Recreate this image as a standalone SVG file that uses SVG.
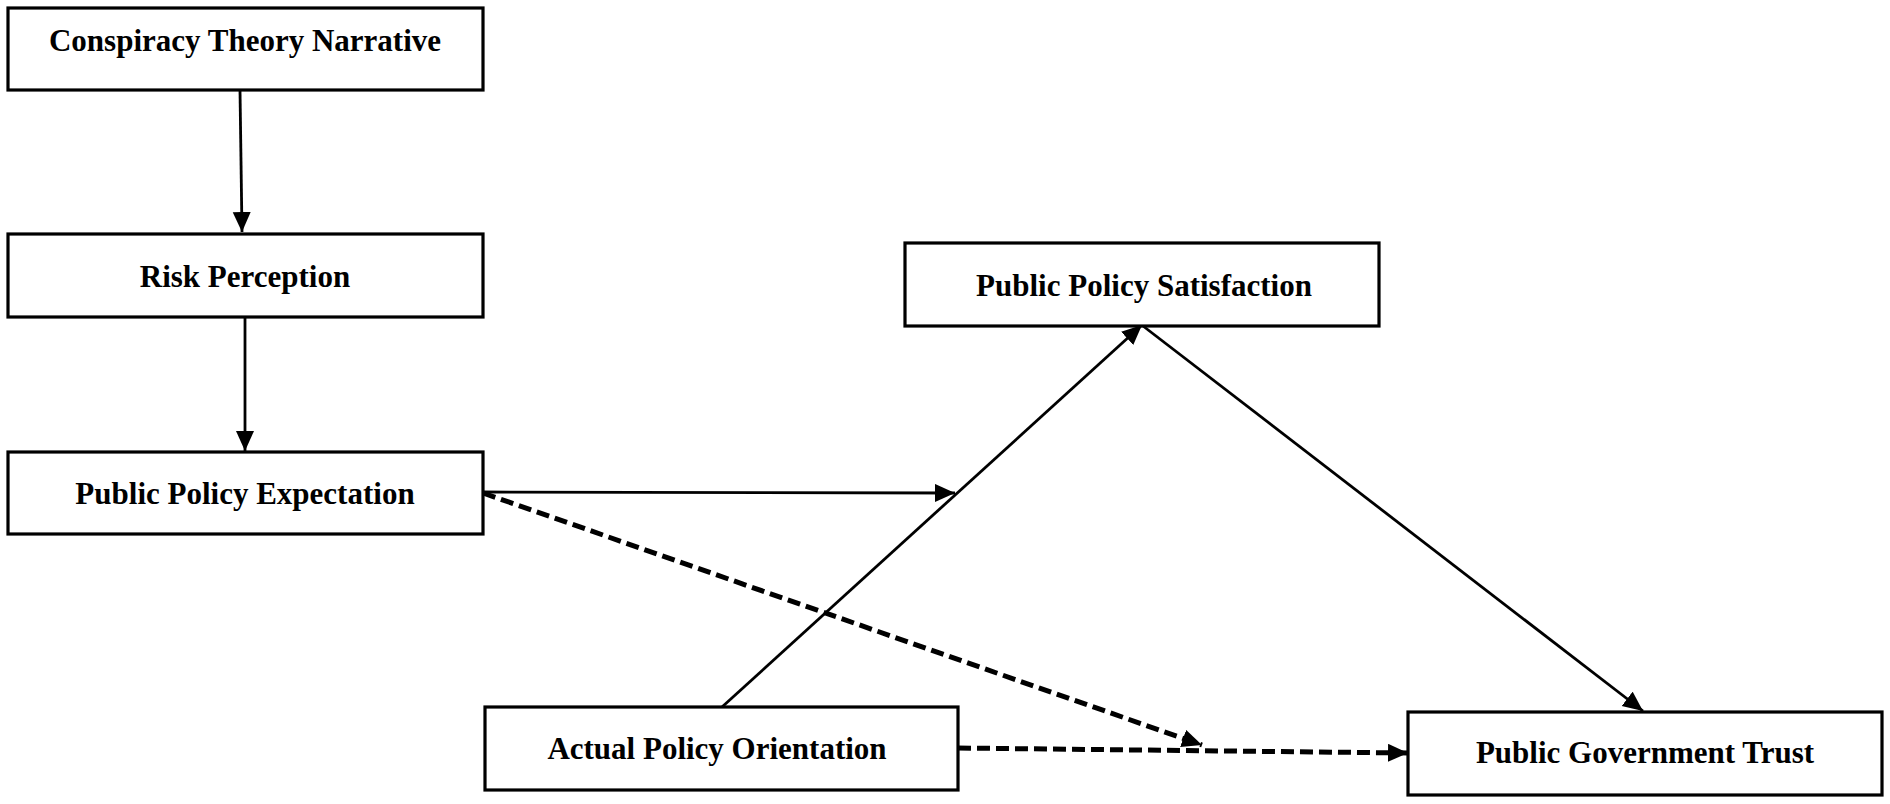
<svg xmlns="http://www.w3.org/2000/svg" width="1890" height="804" viewBox="0 0 1890 804">
<style>
.box{fill:#fff;stroke:#000;stroke-width:3.2}
.lbl{font-family:"Liberation Serif","Times New Roman",serif;font-weight:bold;font-size:31px;fill:#000;text-anchor:middle}
.solid{fill:none;stroke:#000;stroke-width:2.8}
.dash{fill:none;stroke:#000;stroke-width:5;stroke-dasharray:13 6}
</style>
<defs>
<marker id="ah" markerUnits="userSpaceOnUse" markerWidth="22" markerHeight="20" refX="20" refY="9" orient="auto" viewBox="0 0 22 20">
<path d="M0,0 L20,9 L0,18 z" fill="#000"/>
</marker>
</defs>
<rect width="1890" height="804" fill="#fff"/>
<g id="connectors">
<line class="solid" x1="240" y1="90" x2="242" y2="232" marker-end="url(#ah)"/>
<line class="solid" x1="245" y1="317" x2="245" y2="451" marker-end="url(#ah)"/>
<line class="solid" x1="483" y1="492" x2="955" y2="493" marker-end="url(#ah)"/>
<line class="solid" x1="722" y1="707" x2="1142" y2="325" marker-end="url(#ah)"/>
<line class="solid" x1="1143" y1="326" x2="1643" y2="711" marker-end="url(#ah)"/>
<line class="dash" x1="483" y1="493" x2="1202" y2="745" marker-end="url(#ah)"/>
<line class="dash" x1="958" y1="748" x2="1408" y2="753" marker-end="url(#ah)"/>
</g>
<g id="node-conspiracy">
<rect class="box" x="8" y="8" width="475" height="82"/>
<text class="lbl" x="245" y="51">Conspiracy Theory Narrative</text>
</g>
<g id="node-risk">
<rect class="box" x="8" y="234" width="475" height="83"/>
<text class="lbl" x="245" y="287">Risk Perception</text>
</g>
<g id="node-expectation">
<rect class="box" x="8" y="452" width="475" height="82"/>
<text class="lbl" x="245" y="504">Public Policy Expectation</text>
</g>
<g id="node-satisfaction">
<rect class="box" x="905" y="243" width="474" height="83"/>
<text class="lbl" x="1144" y="296">Public Policy Satisfaction</text>
</g>
<g id="node-orientation">
<rect class="box" x="485" y="707" width="473" height="83"/>
<text class="lbl" x="717" y="759">Actual Policy Orientation</text>
</g>
<g id="node-trust">
<rect class="box" x="1408" y="712" width="474" height="83"/>
<text class="lbl" x="1645" y="763">Public Government Trust</text>
</g>
</svg>
